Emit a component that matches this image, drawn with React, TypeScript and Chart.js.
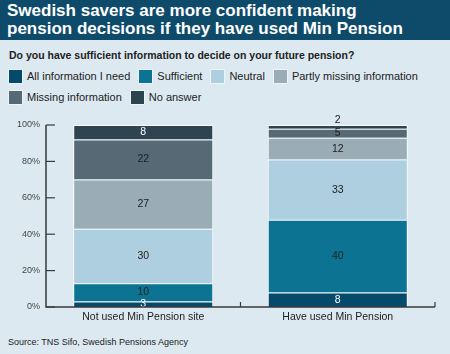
import React, { useEffect, useRef } from "react";
import { Chart, registerables } from "chart.js";

Chart.register(...registerables);

const categories = ["Not used Min Pension site", "Have used Min Pension"];
const seriesNames = [
  "All information I need",
  "Sufficient",
  "Neutral",
  "Partly missing information",
  "Missing information",
  "No answer",
];
const seriesColors = ["#054a6b", "#0d7392", "#aecfe0", "#9aacb6", "#566974", "#2e4450"];
const labelColors = ["#ffffff", "#222222", "#222222", "#222222", "#222222", "#ffffff"];
const allInfo = [3, 8];
const sufficient = [10, 40];
const neutral = [30, 33];
const partlyMissing = [27, 12];
const missing = [22, 5];
const noAnswer = [8, 2];
const yTicks = [0, 20, 40, 60, 80, 100];

const seriesValues = [allInfo, sufficient, neutral, partlyMissing, missing, noAnswer];

const FONT = '"Liberation Sans", Arial, sans-serif';

const axisPlugin = {
  id: "axisLines",
  afterDraw(chart: any) {
    const { ctx, chartArea } = chart;
    const y = chart.scales.y;
    const x = chart.scales.x;
    ctx.save();
    ctx.strokeStyle = "#3a3a3a";
    ctx.lineWidth = 1.5;
    const top = y.getPixelForValue(100);
    const bottom = y.getPixelForValue(0);
    ctx.beginPath();
    ctx.moveTo(chartArea.left, top);
    ctx.lineTo(chartArea.left, bottom);
    ctx.lineTo(chartArea.right, bottom);
    ctx.stroke();
    ctx.lineWidth = 1.2;
    yTicks.forEach((v) => {
      const py = y.getPixelForValue(v);
      ctx.beginPath();
      ctx.moveTo(chartArea.left, py);
      ctx.lineTo(chartArea.left + 9, py);
      ctx.stroke();
    });
    for (let i = 0; i < categories.length; i++) {
      const bx =
        i + 1 < categories.length
          ? (x.getPixelForValue(i) + x.getPixelForValue(i + 1)) / 2
          : chartArea.right;
      ctx.beginPath();
      ctx.moveTo(bx, bottom);
      ctx.lineTo(bx, bottom - 5);
      ctx.stroke();
    }
    ctx.restore();
  },
};

const labelPlugin = {
  id: "segLabels",
  afterDatasetsDraw(chart: any) {
    const { ctx } = chart;
    ctx.save();
    ctx.font = "10.5px " + FONT;
    ctx.textAlign = "center";
    ctx.textBaseline = "middle";
    chart.data.datasets.forEach((ds: any, di: number) => {
      const meta = chart.getDatasetMeta(di);
      meta.data.forEach((bar: any, i: number) => {
        const v = ds.data[i];
        const top = Math.min(bar.y, bar.base);
        const bot = Math.max(bar.y, bar.base);
        if (v < 3) {
          ctx.fillStyle = "#222222";
          ctx.fillText(String(v), bar.x, top - 5);
        } else {
          ctx.fillStyle = labelColors[di];
          ctx.fillText(String(v), bar.x, (top + bot) / 2);
        }
      });
    });
    ctx.restore();
  },
};

export default function App() {
  const ref = useRef<HTMLCanvasElement>(null);

  useEffect(() => {
    document.body.style.margin = "0";
    const chart = new Chart(ref.current as HTMLCanvasElement, {
      type: "bar",
      data: {
        labels: categories,
        datasets: seriesNames.map((name, i) => ({
          label: name,
          data: seriesValues[i],
          backgroundColor: seriesColors[i],
          borderColor: "#ffffff",
          borderWidth: { top: 1, left: 1, right: 1, bottom: 0 },
          borderSkipped: false,
          barPercentage: 0.72,
          categoryPercentage: 1,
        })),
      },
      options: {
        animation: false,
        responsive: false,
        layout: { padding: { top: 15, right: 15, left: 0, bottom: 0 } },
        plugins: { legend: { display: false }, tooltip: { enabled: false }, title: { display: false } },
        scales: {
          x: {
            stacked: true,
            offset: true,
            grid: { display: false, drawTicks: false },
            border: { display: false },
            ticks: { color: "#222222", font: { family: FONT, size: 10.5 }, padding: 4 },
            afterFit: (s: any) => {
              s.height = 25;
            },
          },
          y: {
            stacked: true,
            min: 0,
            max: 100,
            grid: { display: false, drawTicks: false },
            border: { display: false },
            ticks: {
              stepSize: 20,
              color: "#444444",
              font: { family: FONT, size: 9 },
              padding: 6,
              callback: (v: any) => v + "%",
            },
            afterFit: (s: any) => {
              s.width = 46;
            },
          },
        },
      },
      plugins: [axisPlugin, labelPlugin],
    });
    return () => chart.destroy();
  }, []);

  return (
    <div
      style={{
        position: "absolute",
        left: 0,
        top: 0,
        width: 450,
        height: 354,
        background: "#dde9f1",
        fontFamily: FONT,
        overflow: "hidden",
        color: "#222",
      }}
    >
      <div
        style={{
          position: "absolute",
          left: 0,
          top: 0,
          width: 450,
          height: 40,
          background: "#0e4b6b",
          color: "#ffffff",
          fontWeight: "bold",
          fontSize: 17,
          lineHeight: "18px",
          padding: "2px 0 0 7px",
          boxSizing: "border-box",
        }}
      >
        Swedish savers are more confident making
        <br />
        pension decisions if they have used Min Pension
      </div>
      <div
        style={{
          position: "absolute",
          left: 9,
          top: 48,
          fontWeight: "bold",
          fontSize: 10.5,
          lineHeight: "14px",
          whiteSpace: "nowrap",
        }}
      >
        Do you have sufficient information to decide on your future pension?
      </div>
      <div
        style={{
          position: "absolute",
          left: 9,
          top: 69,
          width: 430,
          display: "flex",
          flexWrap: "wrap",
          rowGap: 7,
          columnGap: 9,
          fontSize: 11,
          lineHeight: "14px",
        }}
      >
        {seriesNames.map((n, i) => (
          <div key={n} style={{ display: "flex", alignItems: "center", height: 14, whiteSpace: "nowrap", marginRight: i === 3 ? 20 : 0 }}>
            <span
              style={{
                display: "inline-block",
                width: 13,
                height: 13,
                background: seriesColors[i],
                marginRight: 5,
                boxShadow: "0 0 0 0.5px #ffffff",
              }}
            />
            {n}
          </div>
        ))}
      </div>
      <div style={{ position: "absolute", left: 0, top: 110, width: 450, height: 222 }}>
        <canvas ref={ref} width={450} height={222} style={{ display: "block" }} />
      </div>
      <div
        style={{
          position: "absolute",
          left: 8,
          top: 335,
          fontSize: 9,
          lineHeight: "14px",
          whiteSpace: "nowrap",
        }}
      >
        Source: TNS Sifo, Swedish Pensions Agency
      </div>
    </div>
  );
}
